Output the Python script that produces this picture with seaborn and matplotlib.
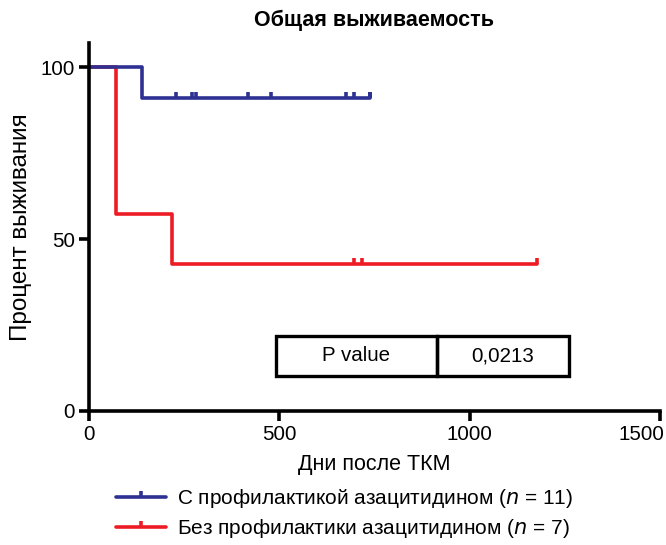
import numpy as np
import pandas as pd
import matplotlib
matplotlib.use("Agg")
import matplotlib.pyplot as plt
import matplotlib.transforms as mtransforms
from matplotlib.path import Path
from matplotlib.lines import Line2D
from matplotlib.patches import Rectangle
import seaborn as sns

# Follow-up times (days after HSCT) and event flags (1 = death, 0 = censored)
aza_times = [139, 228, 270, 282, 418, 478, 676, 695, 739, 739, 739]
aza_events = [1, 0, 0, 0, 0, 0, 0, 0, 0, 0, 0]
noaza_times = [71, 71, 71, 218, 697, 716, 1176]
noaza_events = [1, 1, 1, 1, 0, 0, 0]

group_labels = ["С профилактикой азацитидином", "Без профилактики азацитидином"]
group_n = [11, 7]
group_colors = ["#2e3192", "#ed1c24"]

title = "Общая выживаемость"
xlabel = "Дни после ТКМ"
ylabel = "Процент выживания"
pvalue_label = "P value"
pvalue = "0,0213"
xticks = [0, 500, 1000, 1500]
yticks = [0, 50, 100]


def kaplan_meier(times, events):
    t = np.asarray(times, float)
    e = np.asarray(events, int)
    order = np.argsort(t, kind="stable")
    t, e = t[order], e[order]
    xs, ys = [0.0], [100.0]
    surv = 100.0
    at_risk = len(t)
    censored = []
    for ut in np.unique(t):
        d = int(e[t == ut].sum())
        c = int((t == ut).sum()) - d
        if d:
            surv *= (at_risk - d) / at_risk
            xs.append(ut)
            ys.append(surv)
        for _ in range(c):
            censored.append((ut, surv))
        at_risk -= d + c
    xs.append(t.max())
    ys.append(surv)
    return xs, ys, censored


sns.set_style("ticks")
plt.rcParams["font.family"] = ["Liberation Sans", "DejaVu Sans"]
for key in ["text.color", "axes.labelcolor", "xtick.color", "ytick.color",
            "axes.edgecolor"]:
    plt.rcParams[key] = "black"

fig = plt.figure(figsize=(6.66, 5.45), dpi=100)
ax = fig.add_axes([0.1336, 0.2459, 0.8574, 0.6751])

tick_path = Path([(0, 0), (0, 1)], [Path.MOVETO, Path.LINETO])

frames = []
cens_all = []
for name, times, events in [(group_labels[0], aza_times, aza_events),
                            (group_labels[1], noaza_times, noaza_events)]:
    xs, ys, cens = kaplan_meier(times, events)
    frames.append(pd.DataFrame({"day": xs, "surv": ys, "group": name}))
    cens_all.append(cens)

# Red curve first so the blue one sits on top along 100 %
for i in [1, 0]:
    sns.lineplot(data=frames[i], x="day", y="surv", drawstyle="steps-post",
                 estimator=None, sort=False, color=group_colors[i],
                 linewidth=2.6, ax=ax, legend=False)
    cx = [c[0] for c in cens_all[i]]
    cy = [c[1] for c in cens_all[i]]
    ax.plot(cx, cy, linestyle="none", marker=tick_path, markersize=9,
            markeredgewidth=2.6, color=group_colors[i], zorder=3)

ax.set_xlim(0, 1500)
ax.set_ylim(0, 107)
ax.set_xticks(xticks)
ax.set_yticks(yticks)
sns.despine(ax=ax)
for s in ["left", "bottom"]:
    ax.spines[s].set_linewidth(2.6)
    ax.spines[s].set_color("black")
    ax.spines[s].set_zorder(4)
ax.tick_params(axis="both", width=2.6, length=7, labelsize=14.8,
               colors="black", pad=3)

# Keep the last x tick label inside the figure
last = ax.get_xticklabels()[-1]
last.set_horizontalalignment("right")
last.set_transform(last.get_transform() +
                   mtransforms.ScaledTranslation(3 / 72, 0, fig.dpi_scale_trans))

ax.set_title(title, fontsize=15.5, fontweight="bold", pad=12)
ax.set_xlabel(xlabel, fontsize=15.5, labelpad=7)
ax.set_ylabel(ylabel, fontsize=17.5, labelpad=6)

# P-value box
box_kw = dict(fill=False, edgecolor="black", linewidth=2.4, zorder=5)
ax.add_patch(Rectangle((492, 10.2), 913 - 492, 11.6, **box_kw))
ax.add_patch(Rectangle((913, 10.2), 1261 - 913, 11.6, **box_kw))
ax.text((492 + 913) / 2, 16.0, pvalue_label, ha="center", va="center",
        fontsize=14.8)
ax.text((913 + 1261) / 2, 16.0, pvalue, ha="center", va="center",
        fontsize=14.8)

# Legend below the axes
handles = []
labels = []
for lab, n, col in zip(group_labels, group_n, group_colors):
    handles.append((Line2D([], [], color=col, linewidth=2.6),
                    Line2D([], [], color=col, linestyle="none",
                           marker=tick_path, markersize=9,
                           markeredgewidth=2.6)))
    labels.append(f"{lab} ($\\mathit{{n}}$ = {n})")
leg = fig.legend(handles, labels, loc="upper left",
                 bbox_to_anchor=(0.162, 0.122), frameon=False,
                 fontsize=15, handlelength=2.4, handletextpad=0.5,
                 labelspacing=0.35, borderaxespad=0)

fig.savefig("out.png", dpi=100)
